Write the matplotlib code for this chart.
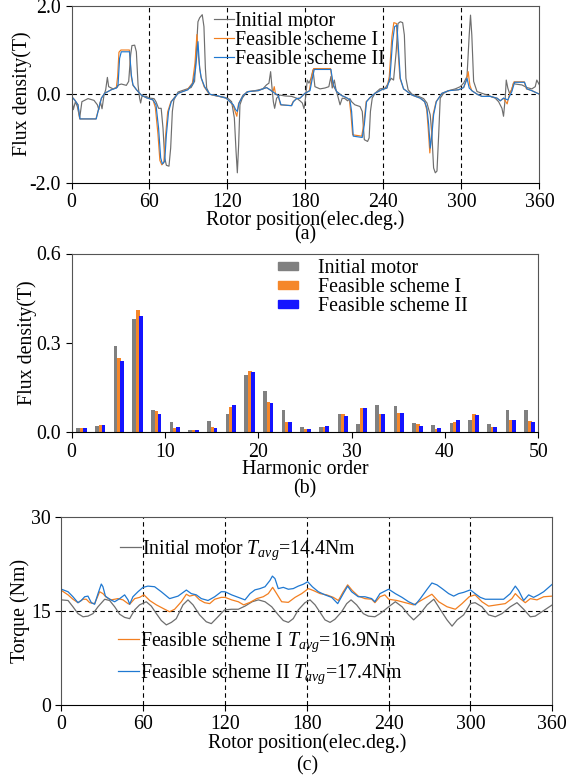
import matplotlib.pyplot as plt
import numpy as np
from matplotlib.patches import Patch
from matplotlib.legend import Legend

plt.rcParams['font.family'] = ['Liberation Serif', 'DejaVu Serif']
plt.rcParams['mathtext.fontset'] = 'custom'
plt.rcParams['mathtext.rm'] = 'Liberation Serif'
plt.rcParams['mathtext.it'] = 'Liberation Serif:italic'
plt.rcParams['axes.unicode_minus'] = False
plt.rcParams['font.size'] = 14.3

GRAY = '#6e6e6e'
ORANGE = '#f27f20'
BLUE = '#1f78d1'
BAR_GRAY = '#808080'
BAR_ORANGE = '#f5872a'
BAR_BLUE = '#1414ff'

labels = ['Initial motor', 'Feasible scheme I', 'Feasible scheme II']

# (a) air-gap flux density, (angle in elec. deg, B in T)
flux_init = [
    (0, -0.05), (1.4, -0.35), (3, -0.17), (4.5, -0.28), (6.3, -0.54), (8, -0.17), (12.7, -0.1),
    (17.3, -0.14), (19.9, -0.24), (21, -0.35), (22.2, -0.17), (23.5, -0.33), (25, -0.02),
    (26.3, 0.1), (27.6, 0.38), (28.6, 0.17), (32, 0.12), (35, 0.15), (36.3, 0.21), (38.3, 0.23),
    (42.2, 0.2), (44, 0.29), (45.5, 0.89), (46.5, 1.1), (48.6, 1.11), (49.9, 0.96), (51.2, 0.21),
    (52.4, -0.09), (53.2, -0.2), (54.2, -0.05), (57.6, -0.05), (60, -0.09), (63.5, -0.1),
    (65, -0.17), (67, -0.32), (69, -0.32), (70.4, -0.77), (71.7, -1.44), (73, -1.61), (75, -1.63),
    (76.3, -1.22), (77.6, -0.39), (78.8, -0.13), (82, 0.05), (87, 0.1), (92, 0.15), (94.7, 0.29),
    (96, 0.96), (97.3, 1.64), (98.6, 1.73), (100.6, 1.8), (101.9, 1.53), (103, 0.59), (104, 0.14),
    (106.3, 0), (110, -0.03), (117.8, -0.07), (120.6, -0.1), (123.2, -0.17), (125.3, -0.54),
    (126.6, -1.29), (127.6, -1.78), (128.6, -1.14), (129.6, -0.24), (131.4, -0.09), (134.8, 0.05),
    (141.2, 0.08), (147.2, 0.12), (150, 0.21), (151.9, 0.25), (153.2, 0.51), (154.2, 0.17),
    (155.3, -0.17), (156.3, -0.32), (157.8, -0.09), (160.4, -0.02), (164.3, -0.04), (169.4, -0.05),
    (173.2, -0.09), (175.8, -0.15), (177.6, -0.2), (178.9, -0.33), (180.2, -0.05), (181.4, 0.32),
    (182.7, 0.25), (184.2, 0.35), (185.8, 0.55), (187.3, 0.17), (191.2, 0.12), (195, 0.14),
    (198, 0.17), (199.6, 0.4), (200.6, 0.14), (202.2, 0.32), (203.5, 0.1), (205.3, -0.09),
    (206.6, -0.24), (208.3, -0.09), (210.4, -0.1), (212.4, -0.15), (214.2, -0.1), (215.5, -0.17),
    (218, -0.24), (222, -0.28), (223.7, -0.39), (225.3, -1.03), (227.8, -1.07), (229, -0.99),
    (230, -0.39), (231.4, -0.09), (233.5, 0.02), (237.3, 0.12), (241.4, 0.14), (243.8, 0.25),
    (246, 0.36), (247.8, 0.32), (249.8, 0.96), (251.2, 1.6), (253, 1.64), (254.8, 1.62),
    (256.1, 1.34), (257.3, 0.36), (259, 0.1), (262, 0), (267, -0.05), (270.9, -0.1), (273.5, -0.2),
    (276, -0.47), (277.3, -0.92), (278.6, -1.67), (279.9, -1.78), (281.2, -1.74), (282.5, -0.92),
    (283.7, -0.09), (286.3, 0.02), (290.2, 0.08), (295.3, 0.12), (299.1, 0.17), (301.7, 0.25),
    (304.3, 0.4), (306, 1.34), (307, 1.79), (308, 1.34), (309.4, 0.29), (312, 0.06), (315.8, 0.02),
    (320.9, -0.03), (326, -0.09), (328.6, -0.17), (331.2, -0.32), (332.4, -0.5), (333.7, -0.09),
    (334.5, 0.32), (335.7, 0.14), (337, 0.02), (338.8, 0.1), (340, 0.25), (341.4, 0.23),
    (346.5, 0.21), (350.4, 0.15), (354.2, 0.12), (356.8, 0.17), (358, 0.32), (360, 0.21)]

flux_s1 = [
    (0, -0.05), (2.4, -0.13), (5, -0.24), (6.3, -0.56), (18.8, -0.56), (21, -0.32), (23, -0.09),
    (25.5, 0.02), (30.6, 0.1), (34.5, 0.15), (35.5, 0.4), (36.5, 0.95), (38, 1.0), (44.5, 1.0),
    (46, 0.4), (47.3, 0.2), (50, 0.1), (53.7, -0.02), (57.6, -0.08), (62.7, -0.13), (64.5, -0.3),
    (66.5, -0.9), (68, -1.5), (69.5, -1.6), (71, -1.55), (72.5, -0.9), (74, -0.4), (76.5, -0.17),
    (82, 0.02), (89, 0.1), (93, 0.25), (95, 0.7), (96.5, 1.35), (97.8, 0.8), (99.5, 0.4),
    (102, 0.17), (106, 0), (112, -0.04), (119, -0.09), (121.9, -0.17), (124.5, -0.26), (126, -0.4),
    (127.2, -0.5), (128.5, -0.22), (132, -0.02), (136, 0.06), (143.7, 0.08), (147.2, 0.12),
    (150, 0.15), (152.7, 0.1), (155, 0.05), (156, 0.17), (157, 0.0), (159, -0.03), (160.8, -0.24),
    (169, -0.26), (170.5, -0.17), (173.2, -0.1), (175.8, -0.09), (179.6, 0.02), (183, 0.08),
    (184.8, 0.4), (186.3, 0.58), (199.3, 0.58), (201, 0.21), (204, 0.06), (207.8, -0.03),
    (211.6, -0.08), (213.8, -0.13), (215, -0.45), (216.3, -0.92), (223.3, -0.95), (225, -0.65),
    (226.7, -0.17), (229.6, -0.08), (233.5, 0.02), (238.6, 0.1), (242.7, 0.14), (244.5, 0.4),
    (246.5, 1.3), (248, 1.62), (250, 1.6), (251.3, 0.96), (252.7, 0.36), (255.5, 0.12),
    (262, -0.02), (268.3, -0.09), (271.7, -0.17), (273.3, -0.35), (274.5, -0.8), (275.7, -1.33),
    (277, -0.9), (278.3, -0.45), (280.5, -0.17), (285, 0.02), (290.2, 0.08), (297.8, 0.1),
    (301.7, 0.15), (303.7, 0.3), (305.2, 0.51), (306.5, 0.2), (308, 0.08), (312, 0),
    (315.8, -0.05), (322.2, -0.05), (327.4, -0.09), (329.9, -0.15), (332.4, -0.09),
    (335.2, -0.22), (336.5, -0.05), (338.5, 0.1), (340.5, 0.28), (348.3, 0.28), (350, 0.12),
    (354.2, 0.08), (360, 0.0)]

flux_s2 = [
    (0, -0.05), (2.4, -0.13), (5, -0.24), (6.5, -0.56), (19, -0.56), (21, -0.32), (23, -0.09),
    (25.5, 0.02), (30.6, 0.1), (34.5, 0.14), (35.8, 0.21), (37, 0.81), (38.3, 0.96), (44.7, 0.96),
    (46, 0.44), (47.3, 0.21), (50, 0.1), (53.7, -0.02), (57.6, -0.08), (62.7, -0.13), (65, -0.24),
    (67, -0.77), (68.6, -1.44), (69.9, -1.58), (71.7, -1.52), (73, -0.92), (74.7, -0.39),
    (76.8, -0.17), (82, 0.02), (89.6, 0.1), (93.5, 0.25), (95.5, 0.59), (97.3, 1.19), (98.6, 0.59),
    (99.9, 0.36), (102.4, 0.17), (106.3, 0), (112.7, -0.04), (119, -0.09), (121.9, -0.17),
    (124.5, -0.24), (126.3, -0.35), (127.6, -0.39), (128.9, -0.2), (132.2, -0.02), (136, 0.06),
    (143.7, 0.08), (147.2, 0.12), (150, 0.15), (152.7, 0.1), (156.5, 0.02), (159, -0.03),
    (161.2, -0.24), (169.4, -0.26), (170.7, -0.17), (173.2, -0.1), (175.8, -0.09), (179.6, 0.02),
    (183.5, 0.08), (185.3, 0.36), (186.8, 0.56), (199.6, 0.56), (201.4, 0.21), (204, 0.06),
    (207.8, -0.03), (211.6, -0.08), (214.2, -0.13), (215.5, -0.39), (216.8, -0.95),
    (223.7, -0.98), (225.3, -0.69), (227, -0.17), (229.6, -0.08), (233.5, 0.02), (238.6, 0.1),
    (242.7, 0.14), (245, 0.36), (247, 1.19), (248.6, 1.53), (250.4, 1.56), (251.7, 0.96),
    (253, 0.36), (255.5, 0.12), (262, -0.02), (268.3, -0.09), (271.7, -0.17), (273.5, -0.32),
    (274.8, -0.69), (276, -1.22), (277.3, -0.92), (278.6, -0.47), (280.7, -0.17), (285, 0.02),
    (290.2, 0.08), (297.8, 0.1), (301.7, 0.15), (304.3, 0.36), (306, 0.14), (308, 0.08), (312, 0),
    (315.8, -0.05), (322.2, -0.05), (327.4, -0.09), (329.9, -0.15), (332.4, -0.09),
    (335.7, -0.13), (338.8, 0.06), (340.9, 0.27), (348.6, 0.27), (350.4, 0.12), (354.2, 0.08),
    (360, 0)]

# (b) harmonic spectrum
harmonic = [1, 3, 5, 7, 9, 11, 13, 15, 17, 19, 21, 23, 25, 27, 29, 31, 33, 35, 37, 39, 41, 43, 45, 47, 49]
harm_init = [0.013, 0.021, 0.289, 0.381, 0.075, 0.035, 0.006, 0.038, 0.062, 0.191, 0.14, 0.075, 0.017,
             0.017, 0.062, 0.027, 0.092, 0.088, 0.031, 0.026, 0.031, 0.042, 0.028, 0.076, 0.076]
harm_s1 = [0.014, 0.025, 0.25, 0.409, 0.07, 0.0135, 0.006, 0.019, 0.085, 0.207, 0.102, 0.033, 0.011,
           0.017, 0.061, 0.08, 0.06, 0.065, 0.028, 0.011, 0.036, 0.062, 0.018, 0.04, 0.038]
harm_s2 = [0.014, 0.025, 0.24, 0.389, 0.062, 0.017, 0.008, 0.0135, 0.092, 0.203, 0.097, 0.035, 0.010,
           0.020, 0.055, 0.081, 0.061, 0.064, 0.022, 0.0135, 0.042, 0.057, 0.018, 0.04, 0.035]

# (c) torque, (angle in elec. deg, torque in Nm)
torque_init = [
    (0, 16.8), (4.8, 16.7), (8.4, 15.7), (12.1, 14.6), (15.8, 14.1), (19.4, 14.2), (23.1, 14.6),
    (26.8, 15.7), (31.7, 16.9), (35.3, 16.7), (39, 15.7), (42.7, 14.5), (46.3, 14.0), (50, 13.8),
    (53.7, 15.2), (57.3, 16.0), (62.2, 16.5), (65.9, 15.8), (69.6, 14.6), (73.2, 13.5), (76.9, 12.8),
    (80.6, 13.2), (84.2, 13.8), (89.1, 16.0), (92.8, 16.8), (96.5, 16.0), (101.3, 14.4),
    (106.2, 13.3), (109.9, 13.0), (114.8, 14.1), (119.6, 15.2), (124.8, 15.3), (129.7, 15.3),
    (134.6, 15.8), (139.9, 16.5), (144.4, 16.8), (149.3, 16.5), (154.2, 15.7), (159, 14.4),
    (162.7, 13.5), (166.4, 13.2), (170, 13.8), (173.7, 15.2), (178.6, 16.35), (182.3, 16.8),
    (186, 16.0), (189.7, 14.8), (193.3, 13.6), (197, 13.2), (200.6, 13.7), (205.5, 14.9),
    (209.2, 16.2), (212.4, 16.8), (216.5, 16.0), (221.4, 14.6), (225.1, 14.2), (229.9, 14.1),
    (233.6, 14.6), (237.2, 15.2), (240, 15.7), (244.9, 16.5), (249.8, 15.7), (254.6, 14.4),
    (258.3, 13.6), (263.2, 14.6), (268.2, 16.0), (273.1, 16.9), (278, 15.2), (282.8, 13.6),
    (286.5, 12.6), (290.2, 13.6), (295, 14.4), (299.9, 16.2), (303.4, 16.35), (308.4, 15.7),
    (313.3, 14.4), (318.2, 14.1), (323.1, 14.6), (329.2, 15.7), (334.1, 16.35), (339, 15.3),
    (343.9, 14.1), (347.5, 14.2), (352.4, 14.9), (360, 16.0)]

torque_s1 = [
    (0, 18.3), (4.8, 17.6), (8.4, 16.9), (12.1, 16.35), (15.8, 16.9), (18.2, 16.9), (20.7, 16.35),
    (24.3, 16.2), (28, 18.1), (30.4, 17.8), (32.9, 17.2), (36.5, 16.8), (41.4, 17.0), (45.1, 16.8),
    (48.8, 16.2), (50, 16.1), (53.7, 17.0), (57.3, 17.2), (60.5, 17.6), (64.7, 16.7), (69.6, 16.0),
    (75.7, 15.3), (79.3, 14.9), (83, 15.3), (87.9, 16.5), (91.6, 17.7), (94, 17.4), (97.7, 17.6),
    (101.3, 16.8), (105, 16.35), (108.7, 16.2), (112.4, 16.9), (117.2, 17.2), (120, 17.2),
    (124.8, 16.8), (129.7, 16.5), (133.6, 16.0), (138.3, 16.4), (143.2, 17.0), (148, 17.3),
    (151.7, 17.8), (154.9, 18.8), (157.8, 17.8), (161.5, 16.5), (166.4, 16.4), (171.3, 17.2),
    (176.2, 17.8), (181.1, 18.6), (184.7, 18.3), (189.7, 17.8), (194.5, 17.6), (199.4, 17.2),
    (203.1, 16.7), (206.7, 18.1), (209.9, 19.2), (213.3, 18.3), (217.7, 17.4), (222.6, 17.0),
    (227.5, 16.9), (229.9, 16.35), (233.6, 17.3), (237.2, 17.6), (240, 16.9), (246.1, 16.7),
    (252.2, 16.35), (258.3, 16.0), (264.5, 16.8), (271.7, 17.7), (276.7, 16.5), (282.8, 15.7),
    (288.9, 15.3), (293.8, 16.2), (299.1, 17.3), (303.4, 17.6), (308.4, 16.5), (313.3, 15.8),
    (319.4, 16.0), (325.5, 16.2), (330.4, 17.0), (332.9, 17.8), (336.5, 17.0), (340.2, 16.35),
    (343.9, 17.0), (348.8, 16.8), (353.7, 17.3), (360, 17.4)]

torque_s2 = [
    (0, 18.5), (4.8, 18.1), (8.4, 17.3), (12.1, 16.35), (14.5, 16.7), (17, 17.3), (19.4, 17.4),
    (21.9, 16.35), (24.3, 16.1), (26.8, 17.8), (29.2, 19.33), (30.4, 18.9), (32.2, 17.4),
    (35.3, 16.9), (39, 16.5), (42.7, 17.0), (46.3, 17.6), (48.8, 16.8), (50, 16.1), (52.4, 17.3),
    (56.1, 18.1), (59.8, 18.8), (63.4, 19.0), (68.3, 18.9), (73.2, 18.1), (79.3, 17.0),
    (85.5, 17.4), (91.6, 18.37), (95.2, 17.8), (98.9, 17.6), (102.6, 17.0), (107.5, 16.7),
    (112.4, 17.3), (117.2, 18.1), (120, 18.1), (124.8, 17.6), (129.7, 17.2), (134.6, 16.8),
    (138.3, 17.8), (141.9, 18.4), (145.6, 18.6), (149.3, 18.9), (152.9, 19.9), (154.7, 20.6),
    (156.6, 20.2), (159, 18.6), (162.7, 18.8), (166.4, 18.5), (170, 18.6), (173.7, 19.0),
    (177.4, 19.3), (180.6, 19.7), (184, 18.9), (188.4, 18.1), (193.3, 17.6), (198.2, 17.2),
    (202.6, 16.2), (206.7, 17.8), (209.9, 19.0), (212.8, 18.1), (217.7, 17.3), (222.6, 17.3),
    (227.5, 17.0), (229.9, 16.5), (233.6, 17.8), (237.2, 18.2), (240, 18.5), (244.9, 17.8),
    (249.8, 17.2), (254.6, 16.5), (259.5, 16.0), (263.2, 17.0), (268.2, 18.5), (271.7, 19.5),
    (275.4, 19.2), (279.2, 18.6), (284, 17.8), (287.7, 17.4), (291.3, 17.8), (295, 18.0),
    (299.9, 18.4), (303.4, 17.8), (307.2, 17.2), (310.9, 16.9), (318.2, 16.9), (324.3, 16.9),
    (329.2, 17.8), (332.9, 19.0), (335.3, 18.3), (339, 16.7), (342.7, 17.6), (346.3, 17.2),
    (349.9, 17.6), (353.7, 18.1), (360, 19.3)]

t_avg = [14.4, 16.9, 17.4]

angle_ticks = [0, 60, 120, 180, 240, 300, 360]
dash = (0, (4, 3))


def style_axes(ax):
    for side in ['top', 'right', 'left']:
        ax.spines[side].set_color('#555555')
    ax.spines['bottom'].set_color('black')
    ax.tick_params(direction='out', length=4, width=0.8)


fig = plt.figure(figsize=(5.72, 7.8), dpi=100)

# ---------- (a) ----------
ax = fig.add_axes([0.125, 0.766, 0.818, 0.2265])
for pts, c, lab in zip([flux_init, flux_s1, flux_s2], [GRAY, ORANGE, BLUE], labels):
    x, y = np.array(pts).T
    ax.plot(x, y, color=c, lw=0.85, label=lab)
for xv in angle_ticks[1:-1]:
    ax.axvline(xv, color='black', lw=0.8, ls=dash, zorder=0)
ax.axhline(0, color='black', lw=0.8, ls=dash, zorder=0)
ax.set_xlim(0, 360)
ax.set_ylim(-2, 2)
ax.set_xticks(angle_ticks)
ax.set_yticks([-2, 0, 2])
ax.set_yticklabels(['-2.0', '0.0', '2.0'])
ax.set_ylabel('Flux density(T)', labelpad=-2)
ax.set_xlabel('Rotor position(elec.deg.)', labelpad=-1.5)
ax.text(0.5, -0.295, '(a)', transform=ax.transAxes, ha='center', va='center')
ax.legend(loc='upper left', bbox_to_anchor=(0.3045, 0.968), frameon=False, borderpad=0,
          borderaxespad=0, handlelength=1.0, handletextpad=0.05, labelspacing=0.0)
style_axes(ax)

# ---------- (b) ----------
ax = fig.add_axes([0.1253, 0.4458, 0.8157, 0.2292])
h = np.array(harmonic)
w = 0.4
ax.bar(h - 0.3, harm_init, w, color=BAR_GRAY)
ax.bar(h + 0.1, harm_s1, w, color=BAR_ORANGE)
ax.bar(h + 0.4, harm_s2, w, color=BAR_BLUE)
ax.set_xlim(0, 50)
ax.set_ylim(0, 0.6)
ax.set_xticks([0, 10, 20, 30, 40, 50])
ax.set_yticks([0, 0.3, 0.6])
ax.set_yticklabels(['0.0', '0.3', '0.6'])
ax.set_ylabel('Flux density(T)', labelpad=0)
ax.set_xlabel('Harmonic order', labelpad=-1)
ax.text(0.5, -0.315, '(b)', transform=ax.transAxes, ha='center', va='center')
handles = [Patch(color=c) for c in [BAR_GRAY, BAR_ORANGE, BAR_BLUE]]
ax.legend(handles, labels, loc='upper left', bbox_to_anchor=(0.442, 0.968), frameon=False,
          borderpad=0, borderaxespad=0, handlelength=1.0, handleheight=0.3,
          handletextpad=1.0, labelspacing=0.0)
style_axes(ax)

# ---------- (c) ----------
ax = fig.add_axes([0.1075, 0.0962, 0.858, 0.2406])
lines = []
for pts, c in zip([torque_init, torque_s1, torque_s2], [GRAY, ORANGE, BLUE]):
    x, y = np.array(pts).T
    ln, = ax.plot(x, y, color=c, lw=0.9)
    lines.append(ln)
for xv in angle_ticks[1:-1]:
    ax.axvline(xv, color='black', lw=0.8, ls=dash, zorder=0)
ax.axhline(15, color='black', lw=0.8, ls=dash, zorder=0)
ax.set_xlim(0, 360)
ax.set_ylim(0, 30)
ax.set_xticks(angle_ticks)
ax.set_yticks([0, 15, 30])
ax.set_ylabel('Torque (Nm)', labelpad=1)
ax.set_xlabel('Rotor position(elec.deg.)', labelpad=-1)
ax.text(0.5, -0.325, '(c)', transform=ax.transAxes, ha='center', va='center')
anchors = [(0.119, 0.822), (0.115, 0.332), (0.115, 0.165)]
for ln, lab, tv, anc in zip(lines, labels, t_avg, anchors):
    leg = Legend(ax, [ln], [lab + ' $T_{avg}$=%.1fNm' % tv], loc='center left',
                 bbox_to_anchor=anc, frameon=False, borderpad=0, borderaxespad=0,
                 handlelength=1.05, handletextpad=0.05)
    ax.add_artist(leg)
style_axes(ax)

plt.savefig('out.png', dpi=100)
